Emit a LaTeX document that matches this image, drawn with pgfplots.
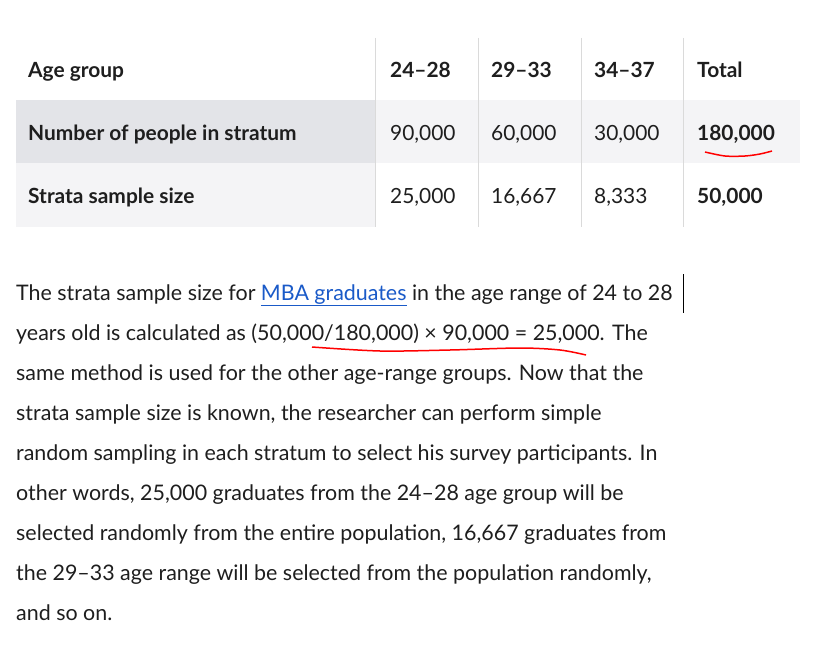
\documentclass[border=0pt]{standalone}
\usepackage{pgfplots}
\pgfplotsset{compat=1.18}
\usepackage{fontspec}
\setmainfont{Lato}
\definecolor{txt}{HTML}{1E1E1E}
\definecolor{hdr}{HTML}{E3E4E8}
\definecolor{lite}{HTML}{F4F4F6}
\definecolor{sep}{HTML}{DADADA}
\definecolor{lnk}{HTML}{1A5AC8}
\begin{document}
\begin{tikzpicture}
\begin{axis}[width=817bp,height=646bp,scale only axis,xmin=0,xmax=817,ymin=0,ymax=646,
 y dir=reverse,axis lines=none,ticks=none,clip=false]
\addplot[draw=none] coordinates {(0,0) (817,646)};
\fill[hdr] (axis cs:16,100) rectangle (axis cs:375,163);
\fill[lite] (axis cs:375,100) rectangle (axis cs:800,163);
\fill[lite] (axis cs:16,163) rectangle (axis cs:375,227);
\draw[sep,line width=1bp] (axis cs:375,38) -- (axis cs:375,227);
\draw[sep,line width=1bp] (axis cs:478,38) -- (axis cs:478,227);
\draw[sep,line width=1bp] (axis cs:581,38) -- (axis cs:581,227);
\draw[sep,line width=1bp] (axis cs:683,38) -- (axis cs:683,227);
\tikzset{t/.style={anchor=base west,inner sep=0pt,text=txt,font=\fontsize{21}{25}\selectfont}}
\node[t,font=\fontsize{21}{25}\selectfont\bfseries] at (axis cs:28,78) {Age group};
\node[t,font=\fontsize{21}{25}\selectfont\bfseries] at (axis cs:390,78) {24–28};
\node[t,font=\fontsize{21}{25}\selectfont\bfseries] at (axis cs:491,78) {29–33};
\node[t,font=\fontsize{21}{25}\selectfont\bfseries] at (axis cs:594,78) {34–37};
\node[t,font=\fontsize{21}{25}\selectfont\bfseries] at (axis cs:697,78) {Total};
\node[t,font=\fontsize{21}{25}\selectfont\bfseries] at (axis cs:28,140) {Number of people in stratum};
\node[t] at (axis cs:390,140) {90,000};
\node[t] at (axis cs:491,140) {60,000};
\node[t] at (axis cs:594,140) {30,000};
\node[t,font=\fontsize{21}{25}\selectfont\bfseries] at (axis cs:697,140) {180,000};
\node[t,font=\fontsize{21}{25}\selectfont\bfseries] at (axis cs:28,203) {Strata sample size};
\node[t] at (axis cs:390,203) {25,000};
\node[t] at (axis cs:491,203) {16,667};
\node[t] at (axis cs:594,203) {8,333};
\node[t,font=\fontsize{21}{25}\selectfont\bfseries] at (axis cs:697,203) {50,000};
\tikzset{p/.style={anchor=base west,inner sep=0pt,text=txt,font=\fontsize{21.5}{25}\selectfont}}
\node[p] at (axis cs:16,300) {The strata sample size for \textcolor{lnk}{\underline{MBA graduates}} in the age range of 24 to 28};
\node[p] at (axis cs:16,340) {years old is calculated as (50,000/180,000) × 90,000 = 25,000. The};
\node[p] at (axis cs:16,380) {same method is used for the other age-range groups. Now that the};
\node[p] at (axis cs:16,420) {strata sample size is known, the researcher can perform simple};
\node[p] at (axis cs:16,460) {random sampling in each stratum to select his survey participants. In};
\node[p] at (axis cs:16,500) {other words, 25,000 graduates from the 24–28 age group will be};
\node[p] at (axis cs:16,540) {selected randomly from the entire population, 16,667 graduates from};
\node[p] at (axis cs:16,580) {the 29–33 age range will be selected from the population randomly,};
\node[p] at (axis cs:16,620) {and so on.};
\addplot[black,line width=1bp] coordinates {(683,274) (683,313)};
\addplot[red,line width=1.5bp,smooth] coordinates {(705,152) (725,156) (745,156) (760,154) (772,151)};
\addplot[red,line width=1.5bp,smooth] coordinates {(312,347) (380,351) (450,350) (520,348) (560,350) (586,355)};
\end{axis}
\end{tikzpicture}
\end{document}
